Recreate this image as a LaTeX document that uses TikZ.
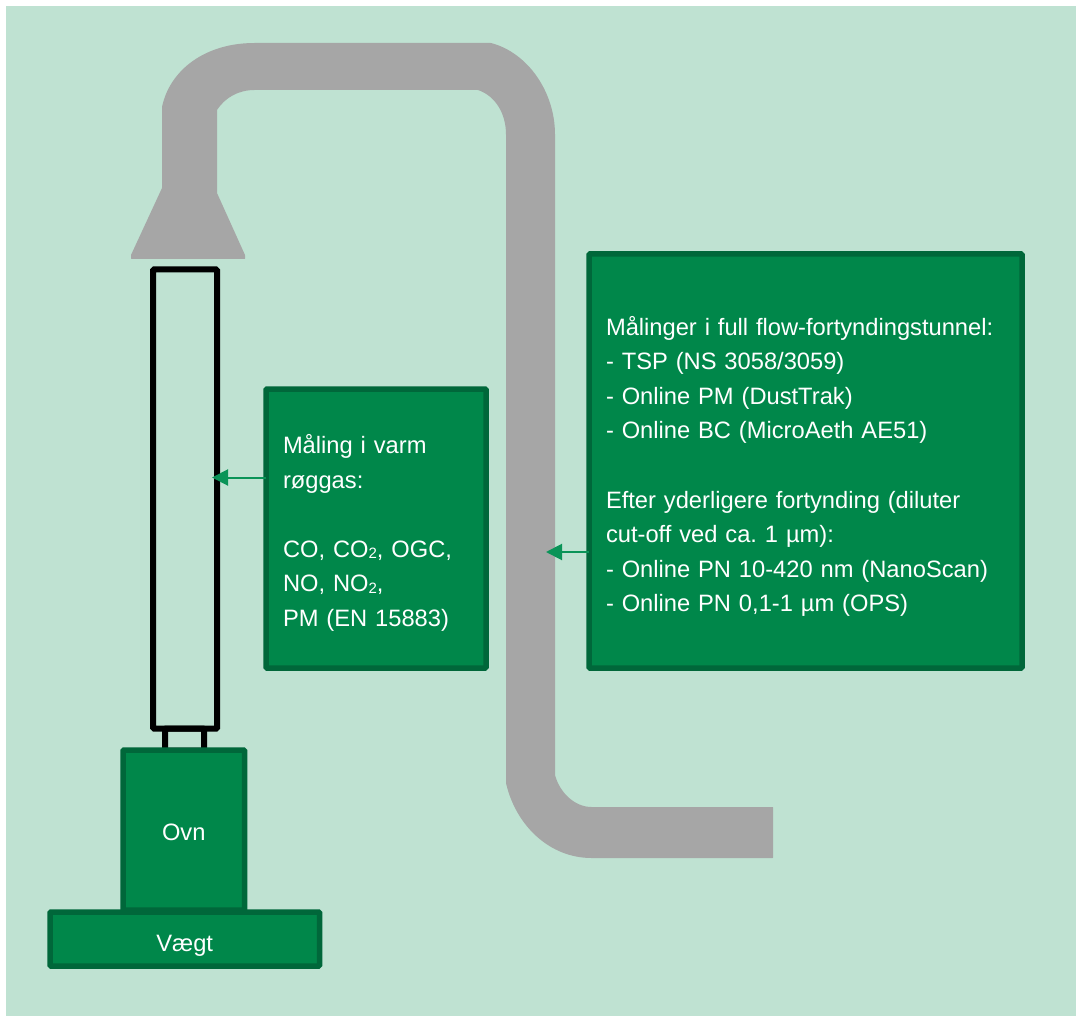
\documentclass[tikz,border=0pt]{standalone}
\usepackage{fontspec}
\setmainfont{Liberation Sans}
\usetikzlibrary{arrows.meta}
\definecolor{bgmint}{HTML}{BFE2D2}
\definecolor{ductgray}{HTML}{A6A6A6}
\definecolor{boxfill}{HTML}{00874A}
\definecolor{boxedge}{HTML}{00673A}
\definecolor{arrowgreen}{HTML}{0A9458}
\newcommand{\subtwo}{{\fontsize{15}{15}\selectfont\raisebox{-1.5pt}{2}}}
\newcommand{\topgap}[1]{\rule{0pt}{#1pt}}
\tikzset{
  greenbox/.style={draw=boxedge,fill=boxfill,line width=5.5pt,rounded corners=1pt,text=white,outer sep=0pt,
    font=\fontsize{23.7}{34.6}\selectfont\frenchspacing,inner sep=0pt,anchor=north west},
  smallbox/.style={greenbox,align=center},
  infobox/.style={greenbox,align=left,inner xsep=17pt},
  pipe/.style={draw=black,line width=6pt,rounded corners=1pt,outer sep=0pt,inner sep=0pt,anchor=north west},
  measure/.style={draw=arrowgreen,line width=2pt,-{Triangle[length=16pt,width=16pt,fill=arrowgreen]}}
}
\begin{document}
\begin{tikzpicture}[x=1pt,y=-1pt]
\useasboundingbox (0,0) rectangle (1076,1016);
\fill[white] (0,0) rectangle (1076,1016);
\fill[bgmint] (6,6) rectangle (1076,1016);
% duct and hood
\fill[ductgray,rounded corners=0.5pt]
  (162,188) -- (162,107)
  .. controls (170,70) and (205,43) .. (255,43)
  -- (491,43)
  .. controls (528,53) and (555,92) .. (555,135)
  -- (555,775)
  .. controls (560,793) and (575,807) .. (592,807)
  -- (773,807) -- (773,858) -- (592,858)
  .. controls (550,858) and (516,826) .. (506,783)
  -- (506,135)
  .. controls (506,113) and (495,96) .. (478,90)
  -- (255,90)
  .. controls (238,90) and (225,98) .. (217,110)
  -- (217,193) -- (245,255) -- (245,259) -- (131,259) -- (131,255) -- cycle;
% chimney
\node[pipe,minimum width=64pt,minimum height=459pt] (chimney) at (153,269.5) {};
\coordinate (chimneyin) at (212,477.5);
\coordinate (ductin) at (546,552);
\draw[ductgray,line width=1pt] (165,747) -- (204,747);
% oven and scale
\node[pipe,minimum width=39pt,minimum height=24pt] (collar) at (165,728.5) {};
\node[smallbox,minimum width=121.5pt,minimum height=160pt] (ovn) at (123,750) {\topgap{22}Ovn};
\node[smallbox,minimum width=269.5pt,minimum height=54pt] (vaegt) at (50,912) {\topgap{30}Vægt};
% info boxes
\node[infobox,text width=186pt,minimum height=279pt] (hot) at (266,389) {\topgap{28}Måling i varm\\røggas:\\[34.6pt]CO, CO\subtwo, OGC,\\NO, NO\subtwo,\\PM (EN 15883)};
\node[infobox,text width=399pt,minimum height=414pt] (tunnel) at (589,254) {\topgap{30}Målinger i full flow-fortyndingstunnel:\\- TSP (NS 3058/3059)\\- Online PM (DustTrak)\\- Online BC (MicroAeth AE51)\\[34.6pt]Efter yderligere fortynding (diluter\\cut-off ved ca. 1 µm):\\- Online PN 10-420 nm (NanoScan)\\- Online PN 0,1-1 µm (OPS)};
\draw[measure] (hot.west |- chimneyin) -- (chimneyin);
\draw[measure] (tunnel.west |- ductin) -- (ductin);
\end{tikzpicture}
\end{document}
